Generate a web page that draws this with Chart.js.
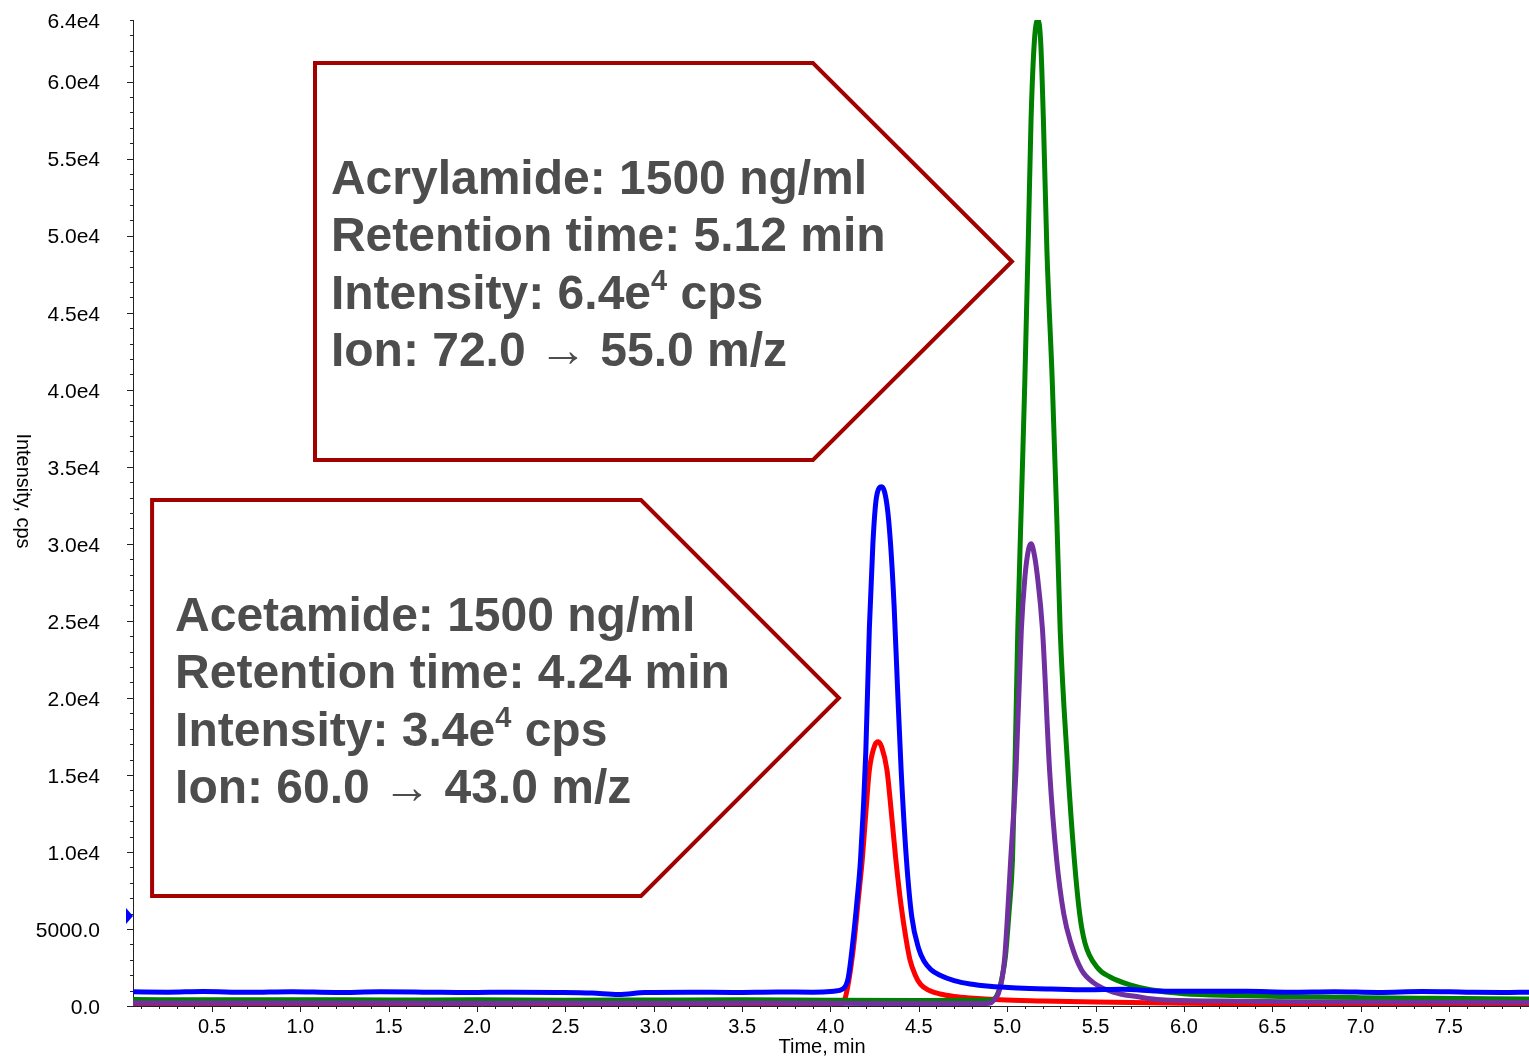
<!DOCTYPE html>
<html>
<head>
<meta charset="utf-8">
<script src="https://cdn.jsdelivr.net/npm/chart.js@4.4.0/dist/chart.umd.min.js"></script>
<style>
  html, body { margin: 0; padding: 0; background: #fff; }
  #wrap { width: 1529px; height: 1058px; position: relative; }
</style>
</head>
<body>
<div id="wrap"><canvas id="chromChart"></canvas></div>
<script>
const FONT = "'Liberation Sans', Arial, sans-serif";

// axis ranges (min)
const xMin = 0.053;
const xMax = 7.953;
const yMin = 0;
const yMax = 64000;

// tick labels
const xTickValues = [0.5, 1.0, 1.5, 2.0, 2.5, 3.0, 3.5, 4.0, 4.5, 5.0, 5.5, 6.0, 6.5, 7.0, 7.5];
const xTickLabels = ['0.5', '1.0', '1.5', '2.0', '2.5', '3.0', '3.5', '4.0', '4.5', '5.0', '5.5', '6.0', '6.5', '7.0', '7.5'];
const yTickValues = [0, 5000, 10000, 15000, 20000, 25000, 30000, 35000, 40000, 45000, 50000, 55000, 60000, 64000];
const yTickLabels = ['0.0', '5000.0', '1.0e4', '1.5e4', '2.0e4', '2.5e4', '3.0e4', '3.5e4', '4.0e4', '4.5e4', '5.0e4', '5.5e4', '6.0e4', '6.4e4'];

// blue trace
const blueTime = [0.053, 0.25, 0.45, 0.7, 0.95, 1.2, 1.45, 1.7, 1.95, 2.2, 2.45, 2.65, 2.8, 2.95, 3.2, 3.45, 3.7, 3.9,
  4.02, 4.07, 4.10, 4.13, 4.15, 4.17, 4.20, 4.22, 4.24, 4.26, 4.29, 4.32, 4.34, 4.36, 4.38, 4.40, 4.43, 4.46, 4.50,
  4.53, 4.57, 4.62, 4.70, 4.79, 4.90, 5.06, 5.25, 5.45, 5.65, 5.85, 6.1, 6.35, 6.6, 6.85, 7.1, 7.35, 7.6, 7.8, 7.953];
const blueIntensity = [920, 900, 940, 890, 930, 880, 920, 900, 870, 900, 880, 840, 750, 870, 900, 880, 910, 900,
  960, 1100, 1800, 4500, 6800, 9500, 16500, 24500, 30000, 33000, 33700, 32500, 30000, 26000, 20500, 15300, 9500, 5800, 3700,
  2900, 2350, 2000, 1650, 1430, 1280, 1170, 1100, 1050, 1080, 980, 950, 960, 900, 930, 880, 940, 900, 880, 900];

// red trace
const redTime = [0.053, 1.0, 2.0, 3.0, 3.9, 4.05, 4.08, 4.10, 4.13, 4.16, 4.18, 4.20, 4.22, 4.25, 4.27, 4.29, 4.32,
  4.345, 4.37, 4.40, 4.43, 4.45, 4.48, 4.51, 4.56, 4.62, 4.70, 4.79, 4.96, 5.2, 5.5, 6.0, 6.5, 7.0, 7.5, 7.953];
const redIntensity = [80, 80, 90, 80, 80, 90, 400, 1400, 3800, 7200, 9500, 12500, 15300, 16900, 17150, 16800, 15300,
  12500, 9500, 6500, 4200, 3000, 2000, 1400, 1000, 780, 620, 520, 400, 330, 260, 180, 130, 110, 90, 80];

// green trace
const greenTime = [0.053, 0.5, 1.0, 1.5, 2.0, 2.5, 3.0, 3.5, 4.0, 4.5, 4.88, 4.92, 4.95, 4.97, 4.99, 5.01, 5.03, 5.045,
  5.06, 5.08, 5.10, 5.12, 5.135, 5.155, 5.175, 5.19, 5.205, 5.225, 5.255, 5.28, 5.30, 5.34, 5.38, 5.41, 5.44, 5.51,
  5.58, 5.70, 5.81, 6.0, 6.3, 6.6, 7.0, 7.4, 7.953];
const greenIntensity = [420, 400, 410, 390, 400, 380, 390, 400, 370, 360, 370, 420, 900, 1800, 3200, 6000, 9500, 16000,
  24400, 32500, 40600, 50000, 57500, 62800, 64000, 62500, 57500, 49000, 40600, 32000, 24400, 16000, 9500, 6000, 4100, 2500,
  1900, 1350, 1050, 800, 680, 600, 540, 500, 450];

// purple trace
const purpleTime = [0.053, 0.6, 1.2, 1.8, 2.4, 3.0, 3.6, 4.2, 4.6, 4.88, 4.91, 4.93, 4.95, 4.97, 4.985, 5.00, 5.02,
  5.05, 5.08, 5.10, 5.12, 5.135, 5.15, 5.17, 5.20, 5.24, 5.28, 5.32, 5.36, 5.42, 5.49, 5.60, 5.75, 5.87, 6.2, 6.6,
  7.0, 7.5, 7.953];
const purpleIntensity = [200, 190, 200, 180, 190, 180, 190, 170, 160, 170, 220, 450, 800, 1700, 3000, 5500, 9500,
  15300, 24400, 27800, 29600, 30000, 29500, 28000, 24400, 15300, 9500, 6000, 4100, 2350, 1500, 900, 580, 400, 320, 280,
  260, 240, 230];

// callout texts
const acrylamideLines = [
  [['Acrylamide: 1500 ng/ml']],
  [['Retention time: 5.12 min']],
  [['Intensity: 6.4e'], ['4', 'sup'], [' cps']],
  [['Ion: 72.0 '], ['\u2192', 'arrow'], [' 55.0 m/z']]
];
const acetamideLines = [
  [['Acetamide: 1500 ng/ml']],
  [['Retention time: 4.24 min']],
  [['Intensity: 3.4e'], ['4', 'sup'], [' cps']],
  [['Ion: 60.0 '], ['\u2192', 'arrow'], [' 43.0 m/z']]
];

// callout shapes in data units
const callouts = [
  { left: 1.083, bodyRight: 3.901, tip: 5.027, top: 61209, bottom: 35440, textX: 1.173, textY: 52706, lines: acrylamideLines },
  { left: 0.161, bodyRight: 2.928, tip: 4.048, top: 32844, bottom: 7140, textX: 0.291, textY: 24341, lines: acetamideLines }
];

const markerValue = 5842;

function pts(ts, vs) {
  return ts.map((t, i) => ({ x: t, y: vs[i] }));
}

function drawRichLine(ctx, segs, x, y) {
  let cx = x;
  segs.forEach(seg => {
    const kind = seg[1];
    if (kind === 'sup') ctx.font = 'bold 29px ' + FONT;
    else if (kind === 'arrow') ctx.font = '48px ' + FONT;
    else ctx.font = 'bold 48px ' + FONT;
    ctx.fillText(seg[0], cx, kind === 'sup' ? y - 19 : y);
    cx += ctx.measureText(seg[0]).width;
  });
}

const extrasPlugin = {
  id: 'extras',
  afterDatasetsDraw(chart) {
    const ctx = chart.ctx;
    const xs = chart.scales.x, ys = chart.scales.y;
    ctx.save();
    callouts.forEach(c => {
      const l = xs.getPixelForValue(c.left);
      const r = xs.getPixelForValue(c.bodyRight);
      const tip = xs.getPixelForValue(c.tip);
      const t = ys.getPixelForValue(c.top);
      const b = ys.getPixelForValue(c.bottom);
      ctx.beginPath();
      ctx.moveTo(l, t);
      ctx.lineTo(r, t);
      ctx.lineTo(tip, (t + b) / 2);
      ctx.lineTo(r, b);
      ctx.lineTo(l, b);
      ctx.closePath();
      ctx.fillStyle = '#ffffff';
      ctx.fill();
      ctx.lineWidth = 4;
      ctx.lineJoin = 'miter';
      ctx.strokeStyle = '#a30000';
      ctx.stroke();

      ctx.fillStyle = '#4d4d4d';
      ctx.textAlign = 'left';
      ctx.textBaseline = 'alphabetic';
      const tx = xs.getPixelForValue(c.textX);
      const ty = ys.getPixelForValue(c.textY);
      c.lines.forEach((segs, i) => drawRichLine(ctx, segs, tx, ty + i * 57.5));
    });
    ctx.restore();
  },
  afterDraw(chart) {
    const ctx = chart.ctx;
    const xs = chart.scales.x, ys = chart.scales.y;
    const area = chart.chartArea;
    ctx.save();
    ctx.strokeStyle = '#222';
    ctx.lineWidth = 1;
    // y ticks
    for (let v = 0; v <= 64000; v += 1000) {
      const py = Math.round(ys.getPixelForValue(v)) + 0.5;
      const len = (v % 5000 === 0) ? 6 : 3;
      ctx.beginPath();
      ctx.moveTo(area.left - len, py);
      ctx.lineTo(area.left, py);
      ctx.stroke();
    }
    // x ticks
    for (let k = 1; k <= 79; k++) {
      const v = k / 10;
      const px = Math.round(xs.getPixelForValue(v)) + 0.5;
      const len = (k % 5 === 0) ? 6 : 3;
      ctx.beginPath();
      ctx.moveTo(px, area.bottom);
      ctx.lineTo(px, area.bottom + len);
      ctx.stroke();
    }
    // marker on y axis
    const my = ys.getPixelForValue(markerValue);
    ctx.fillStyle = '#0000ff';
    ctx.beginPath();
    ctx.moveTo(area.left - 7, my - 8);
    ctx.lineTo(area.left, my);
    ctx.lineTo(area.left - 7, my + 8);
    ctx.closePath();
    ctx.fill();

    // axis titles
    ctx.fillStyle = '#000';
    ctx.font = '20px ' + FONT;
    ctx.textAlign = 'center';
    ctx.textBaseline = 'middle';
    ctx.fillText('Time, min', 822, 1047);
    ctx.translate(23, 491);
    ctx.rotate(Math.PI / 2);
    ctx.fillText('Intensity, cps', 0, 0);
    ctx.restore();
  }
};

const ctx = document.getElementById('chromChart').getContext('2d');
const chromChart = new Chart(ctx, {
  type: 'line',
  data: {
    datasets: [
      { label: 'blue', data: pts(blueTime, blueIntensity), borderColor: '#0000ff', order: 0 },
      { label: 'purple', data: pts(purpleTime, purpleIntensity), borderColor: '#7030a0', order: 1 },
      { label: 'green', data: pts(greenTime, greenIntensity), borderColor: '#008000', order: 2 },
      { label: 'red', data: pts(redTime, redIntensity), borderColor: '#ff0000', order: 3 }
    ]
  },
  options: {
    responsive: true,
    maintainAspectRatio: false,
    animation: false,
    devicePixelRatio: 1,
    layout: { padding: { top: 20, right: 0, bottom: 0, left: 0 } },
    elements: {
      line: { borderWidth: 5, cubicInterpolationMode: 'monotone', fill: false },
      point: { radius: 0 }
    },
    plugins: {
      legend: { display: false },
      tooltip: { enabled: false }
    },
    scales: {
      x: {
        type: 'linear',
        min: xMin,
        max: xMax,
        afterBuildTicks: axis => { axis.ticks = xTickValues.map(v => ({ value: v })); },
        afterFit: axis => { axis.height = 52; axis.paddingLeft = 0; axis.paddingRight = 0; },
        ticks: {
          autoSkip: false,
          maxRotation: 0,
          padding: 3,
          color: '#000',
          font: { family: FONT, size: 20 },
          callback: (value, index) => xTickLabels[index]
        },
        grid: { display: true, drawOnChartArea: false, drawTicks: true, tickLength: 6, color: 'rgba(0,0,0,0)' },
        border: { display: true, color: '#222', width: 1 }
      },
      y: {
        type: 'linear',
        min: yMin,
        max: yMax,
        afterBuildTicks: axis => { axis.ticks = yTickValues.map(v => ({ value: v })); },
        afterFit: axis => { axis.width = 133; axis.paddingTop = 0; axis.paddingBottom = 0; },
        ticks: {
          autoSkip: false,
          padding: 27,
          labelOffset: 2,
          color: '#000',
          font: { family: FONT, size: 21 },
          callback: (value, index) => yTickLabels[index]
        },
        grid: { display: true, drawOnChartArea: false, drawTicks: true, tickLength: 6, color: 'rgba(0,0,0,0)' },
        border: { display: true, color: '#222', width: 1 }
      }
    }
  },
  plugins: [extrasPlugin]
});
</script>
</body>
</html>
